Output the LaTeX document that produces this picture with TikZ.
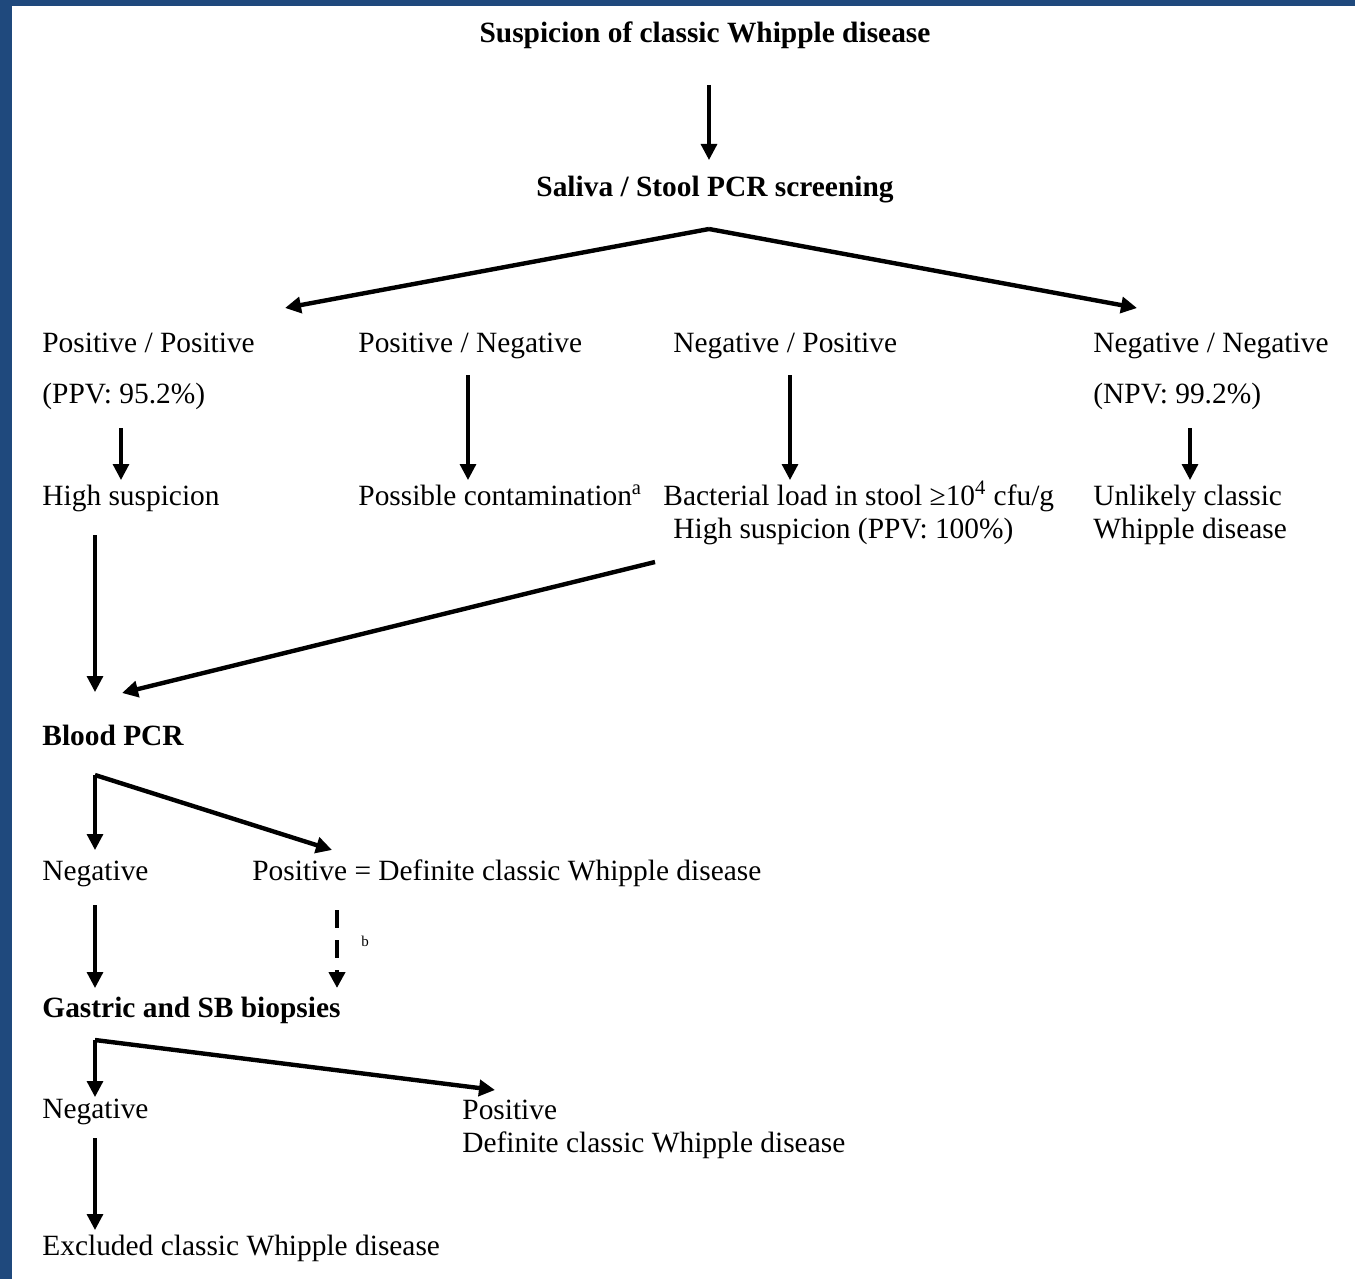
\documentclass[tikz,border=0pt]{standalone}
\usepackage{fontspec}
\setmainfont{Liberation Serif}
\usetikzlibrary{arrows.meta,calc}
\definecolor{frameblue}{RGB}{31,73,125}

\begin{document}
\begin{tikzpicture}[x=0.5pt,y=-0.5pt,
  every node/.style={inner sep=0pt,font=\fontsize{14.7}{16.5}\selectfont},
  txt/.style={anchor=base west},
  hd/.style={font=\fontsize{14.7}{16.5}\selectfont\bfseries},
  arr/.style={-{Triangle[width=8pt,length=8pt]},line width=1.6pt},
  fork/.style={line width=2.2pt}]
\useasboundingbox (0,0) rectangle (1355,1279);
\fill[frameblue] (0,0) rectangle (12,1279);
\fill[frameblue] (0,0) rectangle (1355,6);

\node[hd,anchor=base] (ttl) at (705,43) {Suspicion of classic Whipple disease};
\node[hd,anchor=base] (sal) at (715,197) {Saliva / Stool PCR screening};

\node[txt] (pp) at (42,352) {Positive / Positive};
\node[txt] (ppv) at (42,403) {(PPV: 95.2\%)};
\node[txt] (pn) at (358,352) {Positive / Negative};
\node[txt] (np) at (673,352) {Negative / Positive};
\node[txt] (nn) at (1093,352) {Negative / Negative};
\node[txt] (npv) at (1093,403) {(NPV: 99.2\%)};

\node[txt] (hs) at (42,505) {High suspicion};
\node[txt] (con) at (358,505) {Possible contamination\textsuperscript{a}};
\node[txt,align=left] (load) at (663,538) {Bacterial load in stool ≥10\textsuperscript{4} cfu/g\\\hspace*{5pt}High suspicion (PPV: 100\%)};
\node[txt,align=left] (unl) at (1093,538) {Unlikely classic\\Whipple disease};

\node[hd,txt] (bld) at (42,745) {Blood PCR};
\node[txt] (neg1) at (42,880) {Negative};
\node[txt] (pos1) at (252,880) {Positive = Definite classic Whipple disease};

\node[hd,txt] (gas) at (42,1017) {Gastric and SB biopsies};
\node[txt] (neg2) at (42,1118) {Negative};
\node[txt,align=left] (pos2) at (462,1152) {Positive\\Definite classic Whipple disease};
\node[txt] (exc) at (42,1255) {Excluded classic Whipple disease};

\draw[arr] ($(ttl.base)+(4,42)$) -- ($(sal.base)+(-6,-37)$);
\coordinate (top) at ($(sal.base)+(-6,32)$);
\draw[arr,fork] (top) -- ($(pp.base west)+(243,-44)$);
\draw[arr,fork] (top) -- ($(nn.base west)+(44,-44)$);

\draw[arr] ($(ppv.base west)+(79,25)$) -- ($(hs.base west)+(79,-25)$);
\draw[arr] ($(pn.base west)+(110,23)$) -- ($(con.base west)+(110,-25)$);
\draw[arr] ($(np.base west)+(117,23)$) -- ($(load.base west)+(127,-58)$);
\draw[arr] ($(npv.base west)+(97,25)$) -- ($(unl.base west)+(97,-58)$);

\draw[arr] ($(hs.base west)+(53,30)$) -- ($(bld.base west)+(53,-53)$);
\draw[arr,fork] ($(load.base west)+(-8,24)$) -- ($(bld.base west)+(80,-52)$);

\coordinate (bfork) at ($(bld.base west)+(53,30)$);
\draw[arr] (bfork) -- ($(neg1.base west)+(53,-30)$);
\draw[arr,fork] (bfork) -- ($(pos1.base west)+(80,-30)$);

\draw[arr] ($(neg1.base west)+(53,25)$) -- ($(gas.base west)+(53,-29)$);
\draw[arr,line width=2.4pt,dash pattern=on 9pt off 6pt] ($(pos1.base west)+(85,30)$) -- node[pos=0.4,anchor=west,xshift=11pt,font=\fontsize{7.5}{8}\selectfont] (bnote) {b} ($(gas.base west)+(295,-29)$);

\coordinate (gfork) at ($(gas.base west)+(53,23)$);
\draw[arr] (gfork) -- ($(neg2.base west)+(53,-21)$);
\draw[arr,fork] (gfork) -- ($(pos2.base west)+(33,-62)$);

\draw[arr] ($(neg2.base west)+(53,20)$) -- ($(exc.base west)+(53,-25)$);
\end{tikzpicture}
\end{document}
